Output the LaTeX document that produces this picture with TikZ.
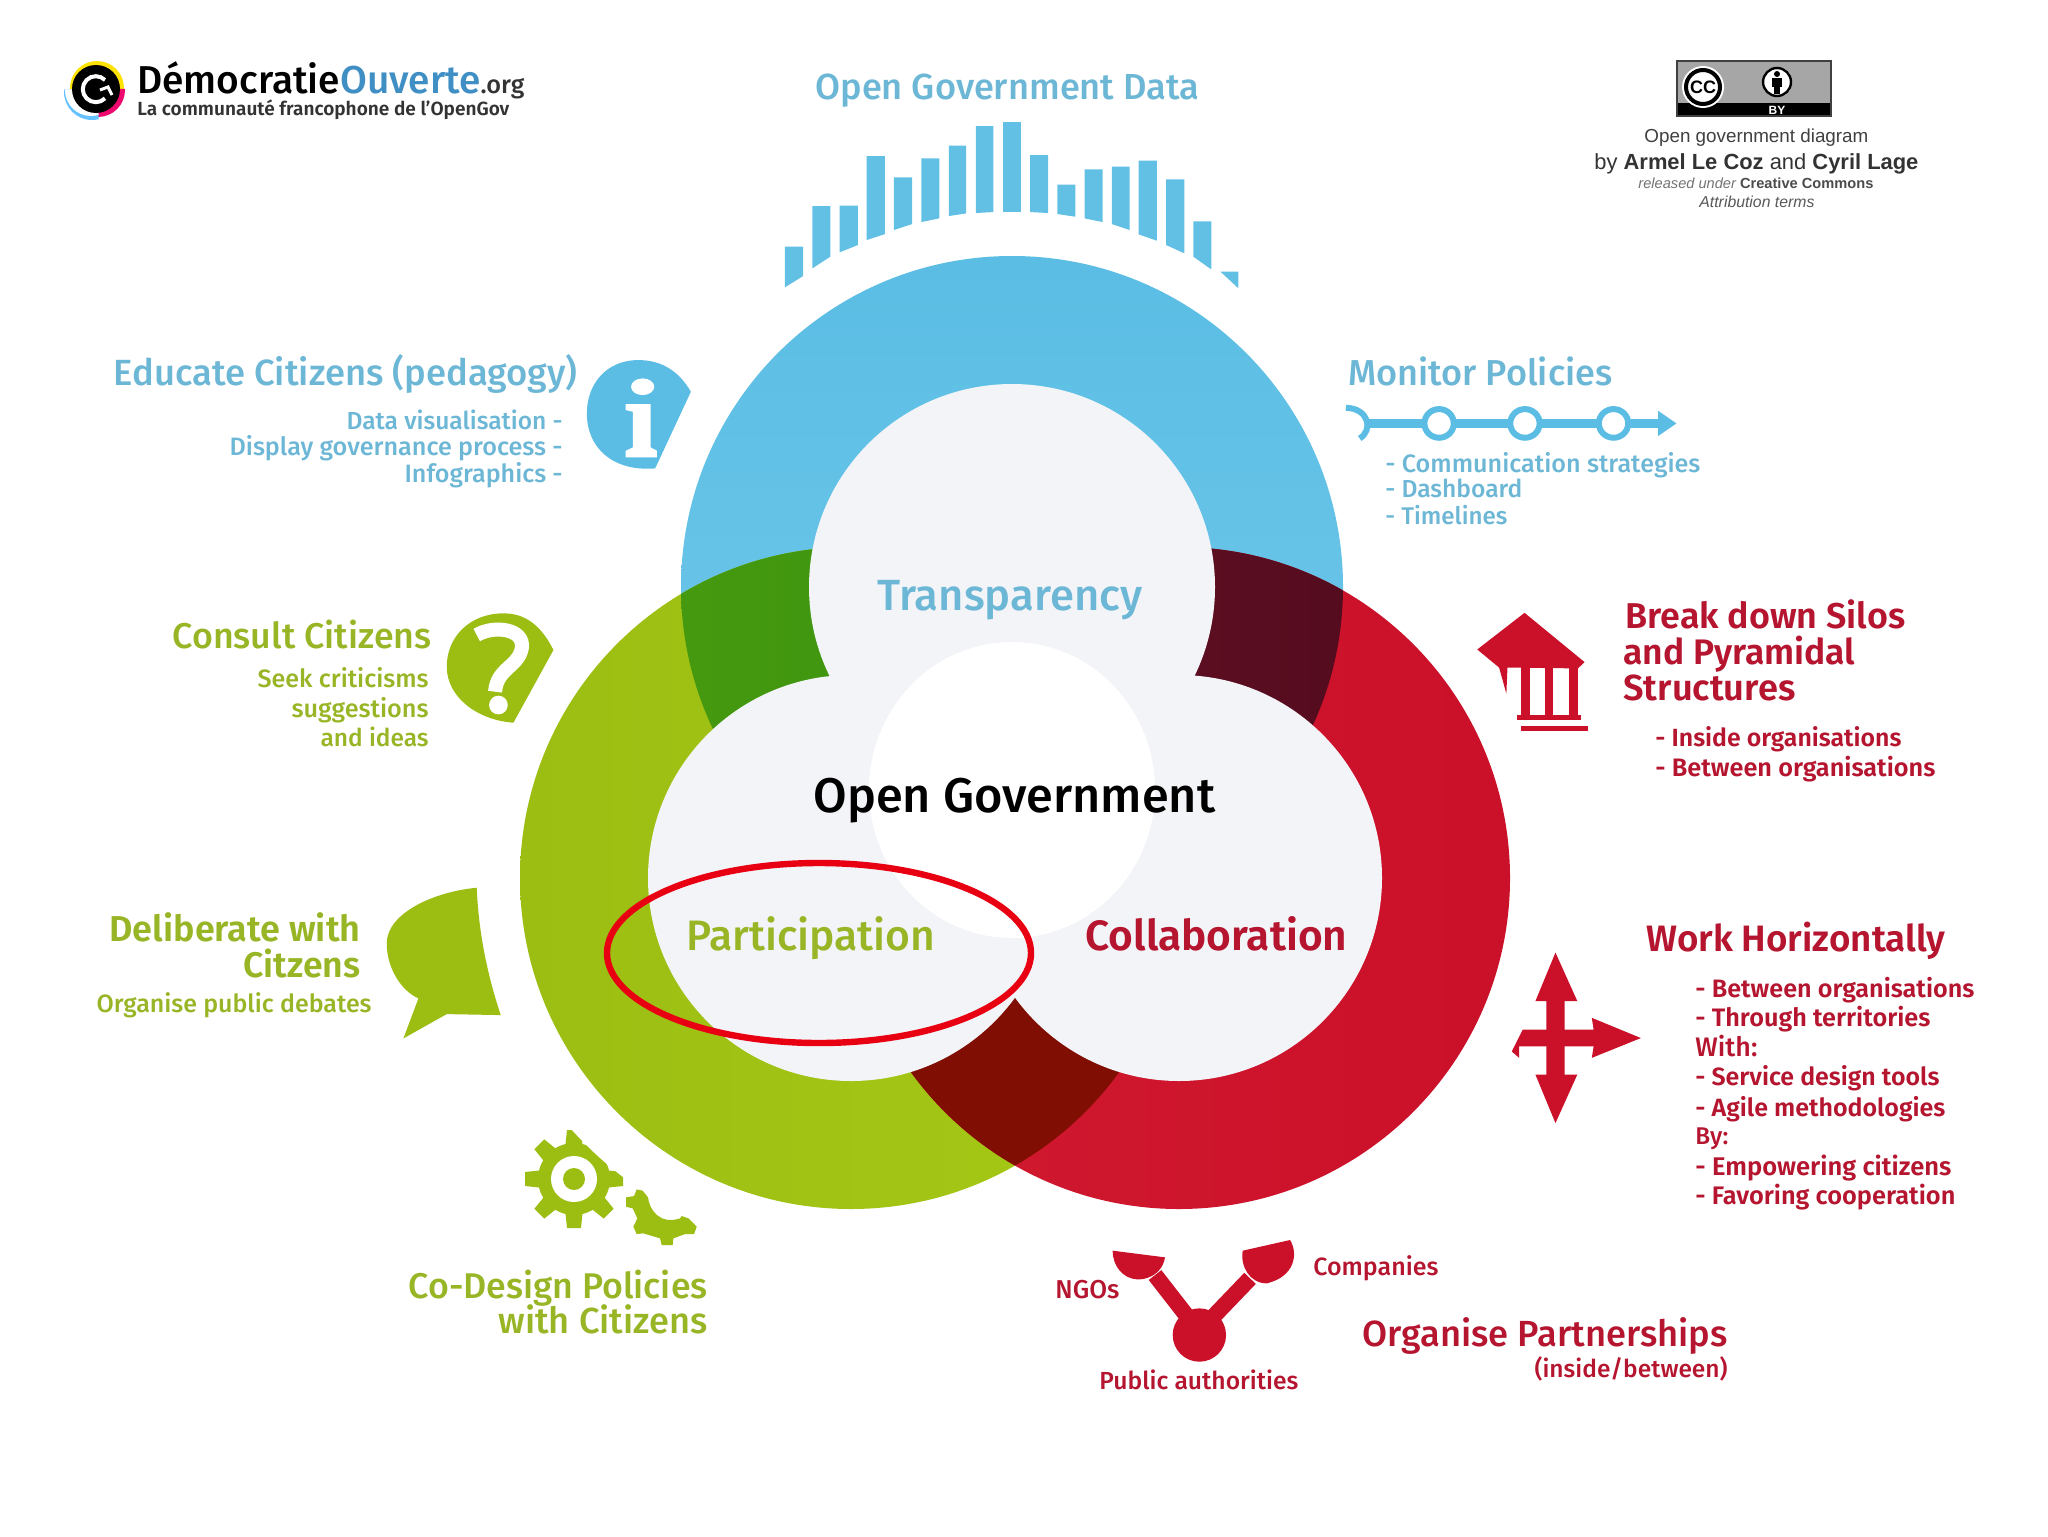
\documentclass[tikz,border=0pt]{standalone}
\usepackage{fontspec}
\usepackage{graphicx}
\setmainfont{Fira Sans}[UprightFont=* Medium,BoldFont=* SemiBold]
\newfontfamily\ccfont{Liberation Sans}
\definecolor{bl}{HTML}{5BBDE4}
\definecolor{bllt}{HTML}{72CAEA}
\definecolor{bltx}{HTML}{6DB7D6}
\definecolor{gr}{HTML}{9CBE13}
\definecolor{grlt}{HTML}{A6C916}
\definecolor{grtx}{HTML}{98B525}
\definecolor{rd}{HTML}{CB1029}
\definecolor{rdlt}{HTML}{D01A30}
\definecolor{rdtx}{HTML}{B5152F}
\definecolor{inn}{HTML}{F3F4F8}
\definecolor{lgo}{HTML}{3F8FC4}
\definecolor{dkgra}{HTML}{4A9C10}
\definecolor{dkgrb}{HTML}{35900E}
\definecolor{winea}{HTML}{6A1226}
\definecolor{wineb}{HTML}{4E0A1C}
\definecolor{brick}{HTML}{800E02}
\definecolor{markred}{HTML}{E80012}
\pgfdeclareradialshading{glow}{\pgfpoint{0bp}{0bp}}{color(0bp)=(white);color(45bp)=(white);color(50bp)=(inn)}
\newlength{\pxu}\setlength{\pxu}{0.5pt}
\newcommand{\lbl}[7]{\node[anchor=#3,text=#2,inner sep=0pt] (#1) at (#4,#5) {\resizebox{#6\pxu}{!}{\fontsize{20}{24}\selectfont #7}};}
\tikzset{barfill/.style={fill=bl!95!white},redshape/.style={fill=rd},grshape/.style={fill=gr}}
\begin{document}
\begin{tikzpicture}[x=0.5pt,y=-0.5pt]
\useasboundingbox (0,0) rectangle (2048,1536);
\fill[white] (0,0) rectangle (2048,1536);

% logo
\fill[yellow!85!orange] (97,88) circle [radius=27];
\begin{scope}
\clip (97,89) -- (140,89) -- (140,140) -- (60,140) -- (60,120) -- cycle;
\fill[magenta!70!red] (98,90) circle [radius=27];
\end{scope}
\begin{scope}
\clip (97,89) -- (100,140) -- (40,140) -- (40,90) -- cycle;
\fill[blue!40!cyan!60!white] (92,92) circle [radius=28];
\fill[white] (91,90) circle [radius=26];
\end{scope}
\fill[black] (96,89) circle [radius=24];
\draw[white,line width=2pt] (105,80) arc [start angle=-45,end angle=-315,radius=13];
\draw[white,line width=1.5pt] (100,90) -- (108,87) -- (112,95);
\lbl{logotitle}{black}{base west}{137}{94}{387}{D\'emocratie\textcolor{lgo}{Ouverte}{\fontsize{13}{15}\selectfont\textcolor{black!80}{.org}}}
\lbl{logosub}{black!80}{base west}{137}{116}{372}{\bfseries La communaut\'e francophone de l'OpenGov}

% gears, cut by the halo of the green disc
\begin{scope}[shift={(574,1179)}]
\fill[grshape] (0,0) circle [radius=36];
\foreach \a in {0,45,...,315} \fill[grshape,rotate=\a] (-9,-30) -- (-7,-49) -- (7,-49) -- (9,-30) -- cycle;
\end{scope}
\fill[white] (851,878) circle [radius=376];
\fill[white] (574,1179) circle [radius=23];
\fill[grshape] (574,1179) circle [radius=11];
\begin{scope}[shift={(500,1110)},x=0.1667pt,y=-0.1667pt]
\fill[grshape,line join=round] (378,262) -- (402,258) -- (410,238) -- (428,242) -- (444,262) .. controls (448,300) and (480,345) .. (540,325) -- (545,318) -- (565,325) -- (590,350) -- (582,372) -- (555,372) -- (520,385) -- (518,405) -- (485,405) -- (480,385) -- (430,370) -- (410,372) -- (400,350) -- (412,325) -- (398,295) -- (378,290) -- cycle;
\end{scope}

% main rings
\shade[top color=bl,bottom color=bllt] (1012,587) circle [radius=331];
\shade[left color=gr,right color=grlt] (851,878) circle [radius=331];
\shade[left color=rdlt,right color=rd] (1179,878) circle [radius=331];
\begin{scope}
\clip (1012,587) circle [radius=331];
\shade[left color=dkgra,right color=dkgrb] (851,878) circle [radius=331];
\shade[left color=winea,right color=wineb] (1179,878) circle [radius=331];
\end{scope}
\begin{scope}
\clip (851,878) circle [radius=331];
\fill[brick] (1179,878) circle [radius=331];
\end{scope}
\fill[inn] (1012,587) circle [radius=203];
\fill[inn] (851,878) circle [radius=203];
\fill[inn] (1179,878) circle [radius=203];
\shade[shading=glow] (1012,790) ellipse [x radius=143,y radius=148];

% highlighted ellipse
\draw[color=markred,line width=3.2pt] (819,953) ellipse [x radius=212,y radius=90];

% centre labels
\lbl{transp}{bltx}{base west}{877}{610}{265}{Transparency}
\lbl{opengov}{black}{base west}{813}{812}{402}{Open Government}
\lbl{particip}{grtx}{base west}{686}{950}{249}{Participation}
\lbl{collab}{rdtx}{base west}{1085}{950}{262}{\bfseries Collaboration}

% bars
\begin{scope}[shift={(750,40)},x=0.1658pt,y=-0.1667pt]
\foreach \l/\r/\t/\bl/\brr in {105/160/620/742/708,188/242/498/685/650,270/325/497/637/615,352/407/348/600/582,434/489/412/570/552,517/571/355/546/535,600/652/317/528/520,681/734/258/519/516,763/817/245/516/516,845/899/345/516/519,927/981/434/522/530,1009/1063/388/535/546,1091/1145/380/552/570,1172/1227/362/583/602,1255/1310/418/615/640,1337/1391/544/650/688}
  \fill[barfill] (\l,\t) -- (\r,\t) -- (\r,\brr) -- (\l,\bl) -- cycle;
\fill[barfill] (1419,695) -- (1473,695) -- (1473,745) -- cycle;
\end{scope}
\lbl{ogd}{bltx}{base west}{815}{99}{384}{Open Government Data}

% info icon
\begin{scope}[shift={(40,30)},x=0.2232pt,y=-0.1667pt]
\fill[bl] (1458,1085) .. controls (1430,1020) and (1390,990) .. (1340,990) .. controls (1270,990) and (1225,1060) .. (1225,1150) .. controls (1225,1250) and (1280,1325) .. (1378,1315) -- cycle;
\fill[white] (1350,1070) ellipse [x radius=26,y radius=25];
\fill[white] (1312,1122) -- (1368,1122) -- (1368,1252) -- (1382,1262) -- (1382,1282) -- (1312,1282) -- (1312,1262) -- (1328,1252) -- (1328,1145) -- (1312,1140) -- cycle;
\end{scope}
\lbl{educ}{bltx}{base east}{578}{385}{464}{Educate Citizens (pedagogy)}
\lbl{educa}{bltx}{base east}{563}{429}{216}{Data visualisation -}
\lbl{educb}{bltx}{base east}{563}{455}{333}{Display governance process -}
\lbl{educc}{bltx}{base east}{563}{482}{158}{Infographics -}

% monitor
\begin{scope}[shift={(1300,40)},x=0.2295pt,y=-0.1667pt]
\fill[bl] (145,1136) rectangle (785,1164);
\fill[bl] (820,1150) -- (780,1112) -- (780,1188) -- cycle;
\draw[bl,line width=3pt] (100,1103) .. controls (150,1105) and (160,1170) .. (130,1195);
\foreach \cx in {303,490,683} \draw[bl,line width=3pt,fill=white] (\cx,1150) ellipse [x radius=32,y radius=43];
\end{scope}
\lbl{monit}{bltx}{base west}{1348}{385}{264}{Monitor Policies}
\lbl{monita}{bltx}{base west}{1385}{472}{315}{- Communication strategies}
\lbl{monitb}{bltx}{base west}{1385}{497}{137}{- Dashboard}
\lbl{monitc}{bltx}{base west}{1385}{524}{122}{- Timelines}

% cc badge
\fill[black!35] (1677,61) rectangle (1831,116);
\fill[black] (1677,103) rectangle (1831,116);
\draw[black!75,line width=1pt] (1677,61) rectangle (1831,116);
\fill[white] (1703,87) circle [radius=21];
\draw[black,line width=2pt] (1703,87) circle [radius=17];
\node[inner sep=0pt,text=black] (ccmark) at (1703,87) {\ccfont\bfseries\fontsize{9}{10}\selectfont CC};
\fill[white] (1777,82) circle [radius=15];
\draw[black,line width=1.2pt] (1777,82) circle [radius=14];
\fill[black] (1777,74) circle [radius=3];
\fill[black] (1772,78) rectangle (1782,87);
\fill[black] (1774,87) rectangle (1780,94);
\node[inner sep=0pt,text=white] (ccby) at (1777,110) {\ccfont\bfseries\fontsize{6}{7}\selectfont BY};
\lbl{cca}{black!75}{base west}{1644}{142}{224}{\ccfont Open government diagram}
\lbl{ccb}{black!80}{base west}{1594}{169}{324}{\ccfont by \textbf{Armel Le Coz} and \textbf{Cyril Lage}}
\lbl{ccc}{black!70}{base west}{1638}{188}{235}{\ccfont\textcolor{black!55}{\itshape released under} \textbf{Creative Commons}}
\lbl{ccd}{black!65}{base west}{1699}{207}{115}{\ccfont\itshape Attribution terms}

% question icon
\begin{scope}[shift={(80,590)},x=0.1667pt,y=-0.1667pt]
\fill[gr] (1420,180) .. controls (1380,100) and (1330,70) .. (1270,70) .. controls (1170,70) and (1100,140) .. (1100,230) .. controls (1100,320) and (1190,390) .. (1300,398) -- cycle;
\draw[white,line width=7pt] (1190,135) .. controls (1240,105) and (1335,115) .. (1325,175) .. controls (1315,230) and (1250,235) .. (1245,305);
\fill[white] (1255,345) circle [radius=28];
\end{scope}
\lbl{cons}{grtx}{base east}{432}{648}{259}{Consult Citizens}
\lbl{consa}{grtx}{base east}{429}{687}{171}{Seek criticisms}
\lbl{consb}{grtx}{base east}{429}{717}{137}{suggestions}
\lbl{consc}{grtx}{base east}{429}{746}{108}{and ideas}

% speech bubble
\begin{scope}[shift={(80,590)},x=0.1667pt,y=-0.1667pt]
\fill[gr] (1190,893) .. controls (1060,905) and (920,970) .. (920,1060) .. controls (920,1130) and (960,1200) .. (1015,1225) -- (970,1345) -- (1100,1272) -- (1262,1275) .. controls (1220,1150) and (1195,1020) .. (1190,893) -- cycle;
\end{scope}
\lbl{delib}{grtx}{base east}{361}{941}{251}{\bfseries Deliberate with}
\lbl{delibb}{grtx}{base east}{361}{977}{117}{\bfseries Citzens}
\lbl{delibc}{grtx}{base east}{372}{1012}{275}{Organise public debates}

\lbl{codes}{grtx}{base east}{708}{1298}{299}{Co-Design Policies}
\lbl{codesb}{grtx}{base east}{708}{1333}{209}{with Citizens}

% temple + cross
\begin{scope}[shift={(1450,580)},x=0.1818pt,y=-0.2105pt]
\fill[redshape] (75,165) -- (205,78) -- (370,195) -- (352,210) -- (158,208) -- (155,270) -- (135,208) -- cycle;
\fill[redshape] (195,205) rectangle (220,322);
\fill[redshape] (262,205) rectangle (284,322);
\fill[redshape] (327,205) rectangle (352,322);
\fill[redshape] (185,320) rectangle (360,332);
\fill[redshape] (195,346) rectangle (380,358);
\fill[redshape] (290,885) -- (350,1000) -- (315,1000) -- (315,1175) -- (350,1175) -- (290,1290) -- (235,1175) -- (265,1175) -- (265,1000) -- (235,1000) -- cycle;
\fill[redshape] (525,1088) -- (390,1135) -- (395,1108) -- (190,1108) -- (190,1135) -- (170,1120) -- (200,1068) -- (395,1068) -- (390,1040) -- cycle;
\end{scope}
\lbl{silo}{rdtx}{base west}{1625}{628}{280}{\bfseries Break down Silos}
\lbl{silob}{rdtx}{base west}{1623}{664}{232}{\bfseries and Pyramidal}
\lbl{siloc}{rdtx}{base west}{1623}{700}{172}{\bfseries Structures}
\lbl{silod}{rdtx}{base west}{1655}{746}{246}{\bfseries - Inside organisations}
\lbl{siloe}{rdtx}{base west}{1655}{776}{280}{\bfseries - Between organisations}
\lbl{work}{rdtx}{base west}{1646}{951}{299}{\bfseries Work Horizontally}
\lbl{worka}{rdtx}{base west}{1695}{997}{279}{\bfseries - Between organisations}
\lbl{workb}{rdtx}{base west}{1695}{1026}{235}{\bfseries - Through territories}
\lbl{workc}{rdtx}{base west}{1695}{1056}{62}{With:}
\lbl{workd}{rdtx}{base west}{1695}{1085}{244}{\bfseries - Service design tools}
\lbl{worke}{rdtx}{base west}{1695}{1116}{250}{\bfseries - Agile methodologies}
\lbl{workf}{rdtx}{base west}{1695}{1144}{33}{By:}
\lbl{workg}{rdtx}{base west}{1695}{1175}{256}{\bfseries - Empowering citizens}
\lbl{workh}{rdtx}{base west}{1695}{1204}{260}{\bfseries - Favoring cooperation}

% partnership icon
\begin{scope}[shift={(1090,1220)},x=0.1667pt,y=-0.1667pt]
\fill[redshape] (68,92) -- (225,112) .. controls (215,170) and (160,180) .. (140,178) .. controls (100,175) and (68,140) .. (68,92) -- cycle;
\fill[redshape] (458,92) -- (600,60) .. controls (625,100) and (615,170) .. (530,190) .. controls (480,190) and (450,140) .. (458,92) -- cycle;
\draw[rd,line width=8pt] (195,165) -- (300,300);
\draw[rd,line width=8pt] (480,175) -- (360,300);
\fill[redshape] (328,345) circle [radius=80];
\end{scope}
\lbl{ngo}{rdtx}{base west}{1055}{1298}{64}{NGOs}
\lbl{comp}{rdtx}{base west}{1313}{1275}{125}{Companies}
\lbl{pub}{rdtx}{base west}{1099}{1389}{199}{Public authorities}
\lbl{part}{rdtx}{base east}{1728}{1346}{365}{Organise Partnerships}
\lbl{partb}{rdtx}{base east}{1728}{1377}{193}{(inside/between)}
\end{tikzpicture}
\end{document}
